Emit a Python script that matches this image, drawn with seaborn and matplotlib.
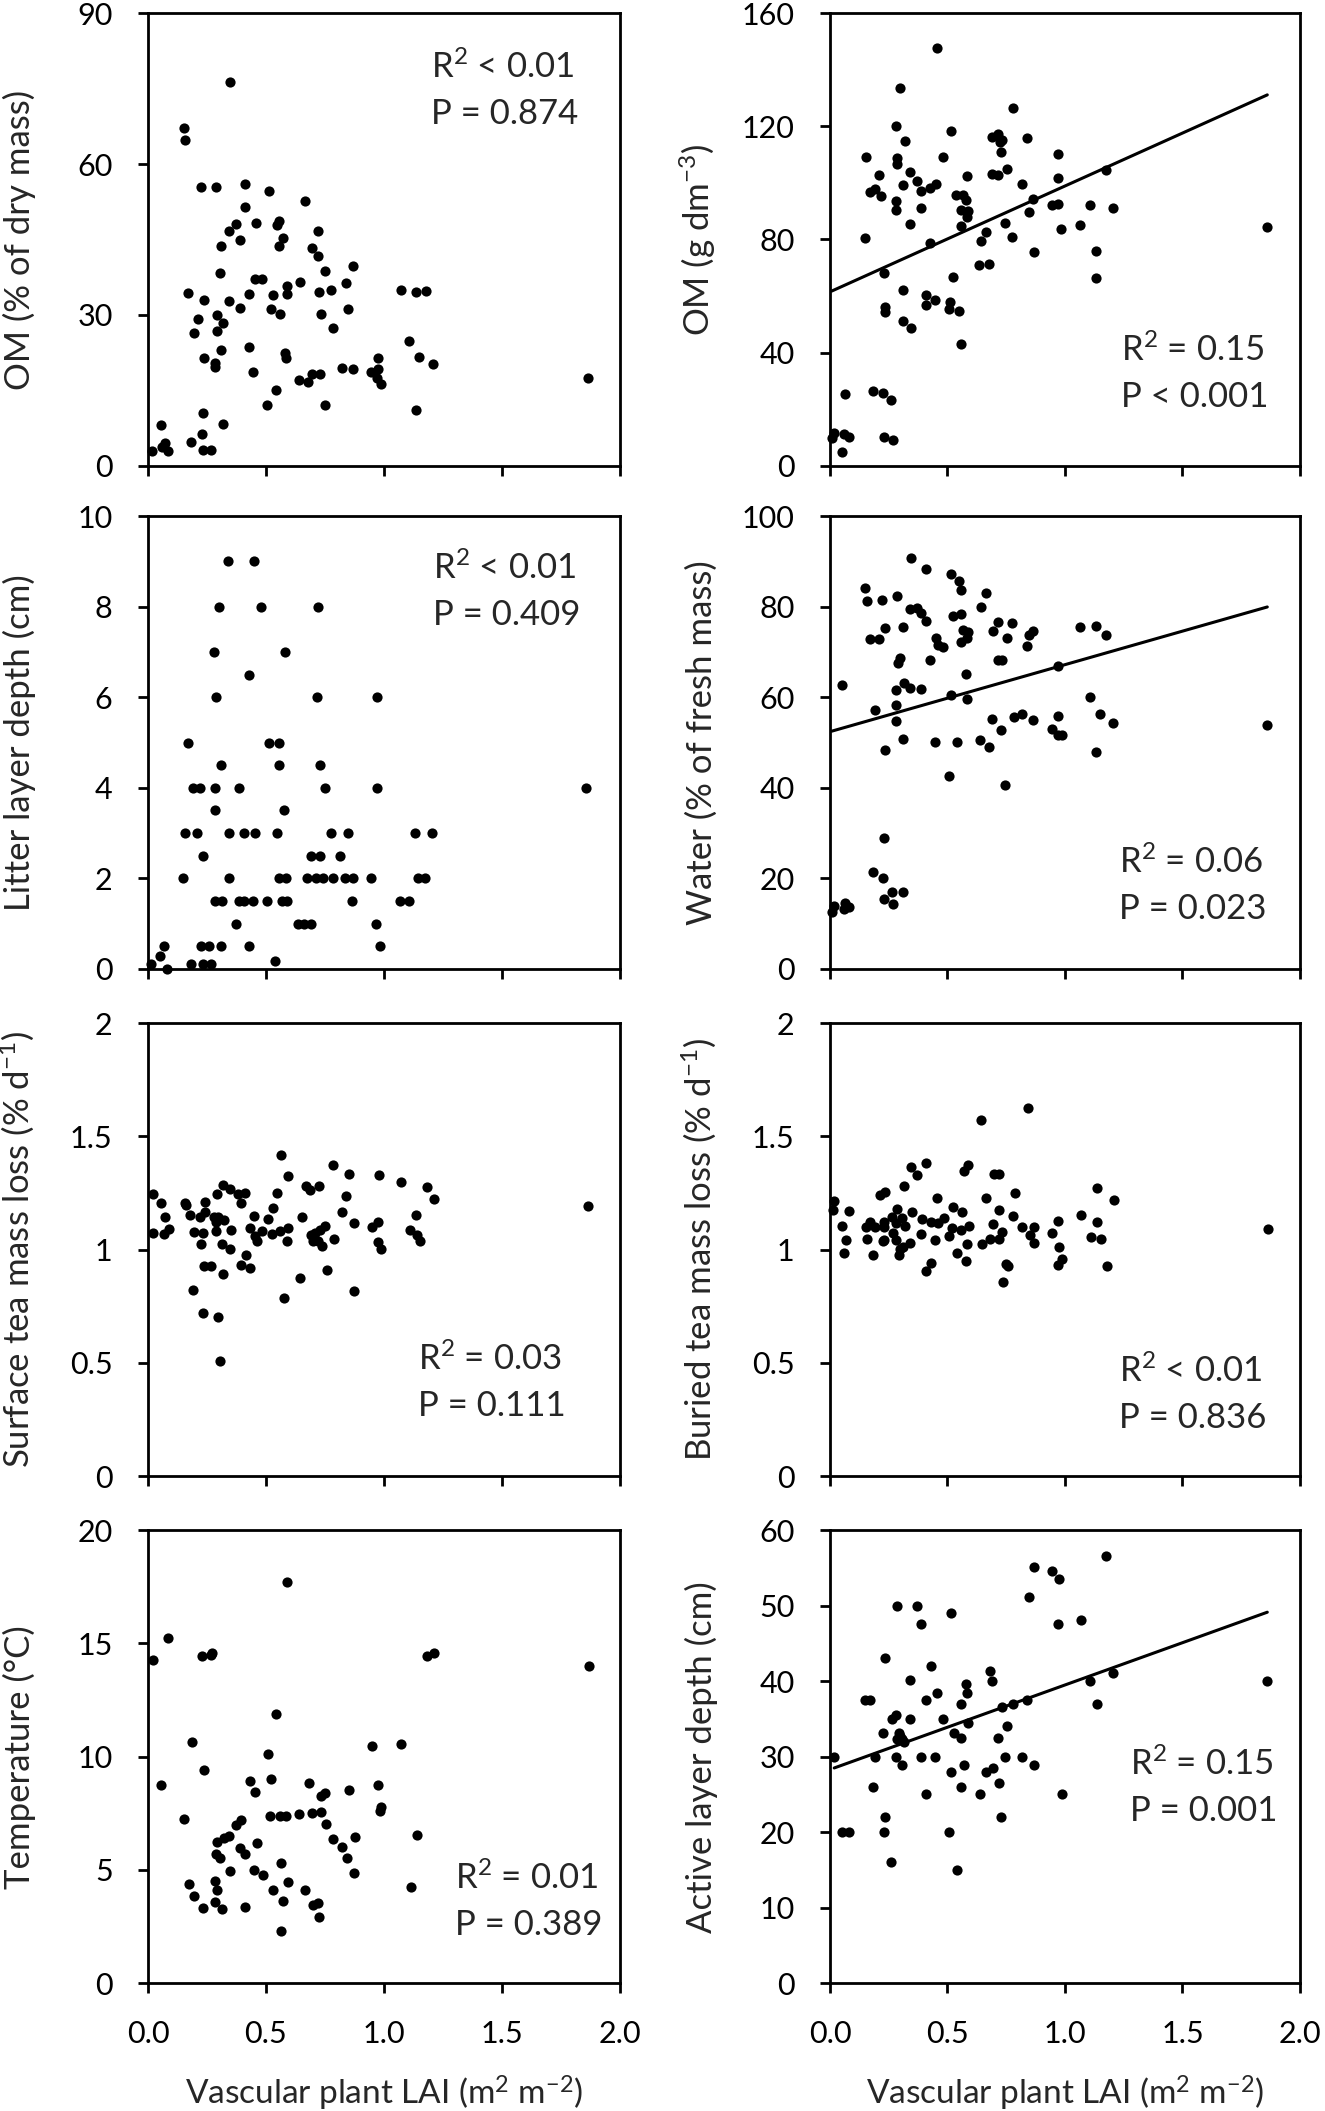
import numpy as np
import pandas as pd
import seaborn as sns
import matplotlib.pyplot as plt

####################################################################################################
#                                        DATA                                #
####################################################################################################

# OM (% of dry mass)
om_pct_x = [0.348, 0.152, 0.157, 0.225, 0.288, 0.411, 0.514, 0.411, 0.666, 0.373,
            0.457, 0.554, 0.548, 0.345, 0.720, 0.391, 0.570, 0.311, 0.555, 0.696,
            0.720, 0.868, 0.304, 0.752, 0.454, 0.482, 0.646, 0.839, 0.588, 0.591,
            0.171, 0.429, 0.529, 0.723, 0.777, 1.070, 1.136, 1.177, 0.238, 0.343,
            0.388, 0.520, 0.848, 0.293, 0.559, 0.734, 0.213, 0.318, 0.291, 0.193,
            0.784, 1.105, 0.429, 0.311, 0.580, 0.584, 0.236, 0.973, 1.148, 1.207,
            0.286, 0.284, 0.820, 0.870, 0.973, 0.946, 0.446, 0.693, 0.730, 0.970,
            1.863, 0.639, 0.679, 0.986, 0.543, 0.504, 0.748, 1.134, 0.234, 0.316,
            0.054, 0.229, 0.184, 0.070, 0.059, 0.084, 0.018, 0.234, 0.268]
om_pct_y = [76.3, 67.1, 64.7, 55.4, 55.4, 56.0, 54.7, 51.5, 52.6, 48.0,
            48.3, 48.7, 47.9, 46.7, 46.7, 44.9, 45.2, 43.8, 43.7, 43.3,
            41.8, 39.8, 38.3, 38.7, 37.1, 37.1, 36.6, 36.3, 35.8, 34.2,
            34.3, 34.1, 34.0, 34.5, 34.9, 35.0, 34.6, 34.7, 32.9, 32.7,
            31.3, 31.1, 31.1, 29.9, 30.1, 30.1, 29.2, 28.5, 26.8, 26.4,
            27.4, 24.8, 23.7, 23.1, 22.5, 21.5, 21.5, 21.4, 21.7, 20.2,
            20.5, 19.7, 19.4, 19.3, 19.3, 18.6, 18.6, 18.3, 18.2, 17.5,
            17.5, 17.1, 16.7, 16.3, 15.0, 12.1, 12.1, 11.2, 10.6, 8.3,
            8.1, 6.4, 4.7, 4.5, 3.7, 2.9, 2.9, 3.2, 3.2]

# OM (g dm-3)
om_dens_x = [0.455, 0.300, 0.780, 0.282, 0.516, 0.318, 0.691, 0.717, 0.722, 0.733,
             0.838, 0.726, 0.155, 0.287, 0.285, 0.480, 0.969, 0.209, 0.339, 0.583,
             0.688, 0.715, 0.753, 0.969, 1.175, 0.309, 0.372, 0.451, 0.426, 0.386,
             0.816, 0.170, 0.191, 0.218, 0.538, 0.567, 0.578, 0.863, 0.283, 0.280,
             0.386, 0.558, 0.587, 0.581, 0.845, 0.944, 0.971, 1.106, 1.206, 0.341,
             0.558, 0.744, 1.065, 0.982, 1.861, 0.150, 0.426, 0.664, 0.643, 0.773,
             0.868, 1.132, 0.635, 0.677, 0.231, 0.522, 1.132, 0.309, 0.408, 0.408,
             0.446, 0.233, 0.233, 0.511, 0.507, 0.547, 0.312, 0.345, 0.558, 0.065,
             0.181, 0.224, 0.258, 0.016, 0.007, 0.058, 0.081, 0.229, 0.267, 0.051]
om_dens_y = [147.5, 133.4, 126.6, 120.2, 118.5, 114.9, 116.2, 117.2, 114.3, 115.2,
             115.9, 111.0, 109.2, 108.9, 106.6, 109.3, 110.1, 102.9, 103.9, 102.4,
             103.2, 102.9, 104.9, 101.9, 104.4, 99.2, 100.6, 99.6, 98.1, 97.3,
             99.5, 96.8, 97.7, 95.2, 95.8, 95.8, 94.0, 94.3, 93.7, 90.5,
             91.1, 90.5, 90.0, 87.8, 89.6, 92.2, 92.5, 92.2, 91.1, 85.6,
             84.6, 86.0, 85.2, 83.7, 84.4, 80.7, 78.8, 82.5, 79.5, 80.9,
             75.5, 76.0, 70.9, 71.2, 68.3, 66.7, 66.3, 62.2, 60.3, 56.8,
             58.5, 56.2, 54.4, 57.9, 55.3, 54.7, 51.2, 48.8, 43.1, 25.5,
             26.5, 25.8, 23.4, 11.5, 9.9, 11.1, 10.1, 10.3, 9.1, 4.8]
om_dens_fit = [61.5, 37.4]   # intercept, slope

# Litter layer depth (cm)
litter_x = [0.340, 0.450, 0.300, 0.480, 0.720, 0.280, 0.580, 0.426, 0.288, 0.717,
            0.970, 0.170, 0.513, 0.555, 0.308, 0.555, 0.728, 0.190, 0.222, 0.284,
            0.385, 0.751, 0.971, 1.857, 0.284, 0.578, 0.156, 0.209, 0.342, 0.406,
            0.453, 0.546, 0.775, 0.846, 1.131, 1.202, 0.231, 0.692, 0.730, 0.814,
            0.148, 0.345, 0.555, 0.583, 0.674, 0.714, 0.742, 0.782, 0.835, 0.869,
            0.945, 1.145, 1.175, 0.284, 0.315, 0.385, 0.408, 0.447, 0.504, 0.567,
            0.590, 0.864, 1.066, 1.104, 0.372, 0.635, 0.662, 0.689, 0.966, 0.066,
            0.225, 0.259, 0.311, 0.428, 0.984, 0.052, 0.540, 0.013, 0.182, 0.231,
            0.267, 0.080]
litter_y = [9, 9, 8, 8, 8, 7, 7, 6.5, 6, 6,
            6, 5, 5, 5, 4.5, 4.5, 4.5, 4, 4, 4,
            4, 4, 4, 4, 3.5, 3.5, 3, 3, 3, 3,
            3, 3, 3, 3, 3, 3, 2.5, 2.5, 2.5, 2.5,
            2, 2, 2, 2, 2, 2, 2, 2, 2, 2,
            2, 2, 2, 1.5, 1.5, 1.5, 1.5, 1.5, 1.5, 1.5,
            1.5, 1.5, 1.5, 1.5, 1, 1, 1, 1, 1, 0.5,
            0.5, 0.5, 0.5, 0.5, 0.5, 0.28, 0.17, 0.1, 0.1, 0.1,
            0.1, 0.0]

# Water (% of fresh mass)
water_x = [0.345, 0.408, 0.513, 0.547, 0.556, 0.150, 0.157, 0.220, 0.285, 0.662,
           0.341, 0.370, 0.386, 0.643, 0.522, 0.556, 0.408, 0.717, 0.773, 0.235,
           0.309, 1.065, 1.132, 0.565, 0.587, 0.693, 0.866, 0.848, 1.175, 0.170,
           0.209, 0.451, 0.581, 0.753, 0.556, 0.458, 0.480, 0.838, 0.300, 0.291,
           0.426, 0.717, 0.733, 0.971, 0.578, 0.051, 0.316, 0.341, 0.386, 0.282,
           0.516, 1.106, 0.581, 0.283, 0.191, 1.148, 0.816, 0.782, 0.971, 0.690,
           0.866, 0.282, 1.206, 1.861, 0.944, 0.726, 0.969, 0.986, 0.309, 0.446,
           0.540, 0.637, 0.675, 0.233, 1.132, 0.505, 0.745, 0.231, 0.182, 0.224,
           0.262, 0.312, 0.229, 0.267, 0.065, 0.016, 0.058, 0.081, 0.007]
water_y = [90.8, 88.4, 87.3, 85.6, 83.6, 84.1, 81.3, 81.4, 82.4, 83.1,
           79.6, 79.7, 78.6, 79.9, 78.0, 78.3, 76.9, 76.6, 76.5, 75.4,
           75.6, 75.5, 75.7, 74.8, 74.4, 74.6, 74.6, 73.7, 73.8, 72.9,
           72.9, 73.1, 73.1, 73.0, 72.1, 71.5, 71.0, 71.4, 68.7, 67.6,
           68.3, 68.2, 68.2, 66.8, 65.1, 62.8, 63.2, 62.0, 61.9, 61.5,
           60.4, 60.1, 59.6, 58.3, 57.2, 56.4, 56.4, 55.6, 55.9, 55.2,
           54.9, 54.7, 54.4, 53.9, 53.1, 52.8, 51.7, 51.7, 50.8, 50.2,
           50.2, 50.6, 49.1, 48.3, 47.9, 42.7, 40.6, 29.0, 21.4, 20.1,
           16.9, 17.1, 15.5, 14.3, 14.6, 13.9, 13.3, 13.6, 12.5]
water_fit = [52.4, 14.8]

# Surface tea mass loss (% d-1)
surface_x = [0.563, 0.783, 0.852, 0.979, 0.594, 1.071, 0.319, 0.668, 0.724, 0.686,
             1.182, 0.349, 0.380, 0.412, 0.291, 0.547, 0.021, 0.841, 1.210, 0.157,
             0.160, 0.057, 0.242, 0.394, 1.863, 0.529, 0.240, 0.176, 0.219, 0.278,
             0.073, 0.451, 0.822, 0.651, 1.137, 0.298, 0.323, 0.510, 0.289, 0.872,
             0.973, 0.750, 0.948, 0.091, 0.433, 0.594, 0.351, 0.485, 0.561, 0.729,
             0.196, 0.235, 0.289, 1.109, 0.021, 0.068, 0.524, 0.692, 0.708, 1.141,
             0.455, 0.462, 0.790, 0.588, 0.699, 0.975, 1.152, 0.720, 0.226, 0.314,
             0.736, 0.348, 0.989, 0.417, 0.237, 0.267, 0.392, 0.431, 0.758, 0.316,
             0.643, 0.189, 0.875, 0.576, 0.232, 0.296, 0.307]
surface_y = [1.417, 1.375, 1.333, 1.329, 1.324, 1.297, 1.285, 1.283, 1.282, 1.264,
             1.276, 1.266, 1.246, 1.252, 1.246, 1.249, 1.246, 1.235, 1.224, 1.204,
             1.196, 1.205, 1.210, 1.205, 1.194, 1.182, 1.167, 1.151, 1.143, 1.146,
             1.142, 1.148, 1.166, 1.143, 1.155, 1.142, 1.129, 1.136, 1.123, 1.117,
             1.120, 1.105, 1.102, 1.091, 1.096, 1.096, 1.086, 1.082, 1.083, 1.088,
             1.077, 1.074, 1.082, 1.085, 1.073, 1.068, 1.067, 1.066, 1.074, 1.066,
             1.060, 1.040, 1.048, 1.039, 1.036, 1.035, 1.040, 1.040, 1.024, 1.024,
             1.015, 1.004, 1.001, 0.977, 0.929, 0.926, 0.933, 0.918, 0.911, 0.892,
             0.876, 0.820, 0.818, 0.787, 0.718, 0.701, 0.509]

# Buried tea mass loss (% d-1)
buried_x = [0.841, 0.641, 0.410, 0.345, 0.588, 0.372, 0.570, 0.697, 0.718, 0.316,
            1.135, 0.236, 0.211, 0.787, 0.666, 0.457, 1.209, 0.016, 0.011, 0.525,
            0.083, 0.285, 0.720, 0.347, 0.560, 1.069, 0.778, 0.264, 0.307, 0.390,
            0.484, 1.137, 0.971, 0.428, 0.460, 0.283, 0.171, 0.229, 0.695, 0.052,
            0.152, 0.191, 0.231, 0.318, 0.518, 0.592, 0.818, 0.868, 1.865, 0.558,
            0.269, 0.731, 0.386, 0.946, 0.507, 0.850, 1.110, 0.720, 1.152, 0.159,
            0.069, 0.231, 0.226, 0.282, 0.448, 0.679, 0.341, 0.585, 0.648, 0.870,
            0.310, 0.296, 0.975, 0.058, 0.542, 0.184, 0.292, 0.989, 0.579, 0.428,
            0.749, 0.969, 0.756, 1.179, 0.410, 0.735]
buried_y = [1.625, 1.573, 1.383, 1.364, 1.375, 1.330, 1.345, 1.335, 1.335, 1.283,
            1.274, 1.254, 1.239, 1.251, 1.226, 1.226, 1.219, 1.213, 1.177, 1.189,
            1.171, 1.180, 1.177, 1.166, 1.166, 1.155, 1.148, 1.146, 1.141, 1.136,
            1.138, 1.124, 1.127, 1.121, 1.117, 1.117, 1.120, 1.123, 1.111, 1.104,
            1.102, 1.101, 1.099, 1.104, 1.095, 1.104, 1.102, 1.102, 1.091, 1.085,
            1.074, 1.076, 1.070, 1.073, 1.061, 1.063, 1.054, 1.048, 1.048, 1.046,
            1.043, 1.043, 1.039, 1.042, 1.043, 1.045, 1.030, 1.023, 1.026, 1.027,
            1.011, 1.004, 1.010, 0.987, 0.987, 0.977, 0.974, 0.957, 0.949, 0.942,
            0.937, 0.933, 0.927, 0.929, 0.905, 0.855]

# Temperature (°C)
temp_x = [0.587, 0.084, 0.022, 0.230, 0.268, 0.273, 1.181, 1.212, 1.869, 0.544,
          0.185, 1.074, 0.948, 0.508, 0.237, 0.522, 0.433, 0.684, 0.054, 0.973,
          0.853, 0.454, 0.749, 0.734, 0.989, 0.982, 0.731, 0.693, 0.641, 0.515,
          0.558, 0.583, 0.153, 0.393, 0.375, 0.756, 1.138, 0.345, 0.320, 0.876,
          0.783, 0.291, 0.460, 0.388, 0.820, 0.413, 0.287, 0.307, 0.842, 0.562,
          0.347, 0.449, 0.487, 0.873, 0.284, 0.592, 0.174, 1.113, 0.291, 0.530,
          0.666, 0.194, 0.573, 0.284, 0.722, 0.698, 0.413, 0.235, 0.312, 0.725,
          0.562]
temp_y = [17.7, 15.25, 14.26, 14.44, 14.5, 14.56, 14.46, 14.56, 14.01, 11.87,
          10.66, 10.54, 10.46, 10.1, 9.41, 9.0, 8.91, 8.85, 8.75, 8.75,
          8.54, 8.46, 8.41, 8.28, 7.78, 7.59, 7.57, 7.51, 7.47, 7.40,
          7.40, 7.37, 7.26, 7.22, 6.97, 7.04, 6.56, 6.51, 6.40, 6.44,
          6.35, 6.22, 6.18, 5.96, 6.00, 5.72, 5.68, 5.54, 5.51, 5.32,
          4.97, 4.99, 4.76, 4.87, 4.53, 4.47, 4.37, 4.26, 4.12, 4.10,
          4.12, 3.85, 3.62, 3.56, 3.54, 3.46, 3.35, 3.31, 3.28, 2.91,
          2.31]

# Active layer depth (cm)
active_x = [1.175, 0.870, 0.946, 0.973, 0.847, 0.285, 0.371, 0.517, 0.387, 0.969,
            1.067, 0.236, 0.429, 0.679, 1.205, 0.341, 0.690, 1.106, 1.861, 0.580,
            0.584, 0.454, 0.151, 0.171, 0.409, 0.838, 0.559, 0.777, 1.135, 0.732,
            0.283, 0.265, 0.342, 0.481, 0.587, 0.753, 0.225, 0.526, 0.292, 0.299,
            0.308, 0.285, 0.317, 0.559, 0.717, 0.018, 0.193, 0.279, 0.389, 0.447,
            0.746, 0.816, 0.305, 0.569, 0.867, 0.695, 0.665, 0.514, 0.721, 0.184,
            0.559, 0.409, 0.638, 0.986, 0.234, 0.728, 0.052, 0.081, 0.231, 0.505,
            0.261, 0.541]
active_y = [56.6, 55.1, 54.6, 53.5, 51.1, 50.0, 50.0, 49.1, 47.6, 47.6,
            48.1, 43.1, 42.0, 41.3, 41.1, 40.2, 40.0, 40.0, 40.0, 39.6,
            38.5, 38.5, 37.5, 37.5, 37.5, 37.5, 37.0, 37.0, 37.0, 36.6,
            35.5, 35.0, 35.0, 35.0, 34.5, 34.0, 33.1, 33.1, 33.1, 32.7,
            32.4, 32.3, 31.9, 32.5, 32.5, 30.0, 30.0, 30.0, 30.0, 30.0,
            30.0, 30.0, 28.9, 28.9, 28.9, 28.5, 28.0, 28.0, 26.5, 26.0,
            26.0, 25.0, 25.0, 25.0, 22.0, 22.0, 20.0, 20.0, 20.0, 20.0,
            16.0, 15.0]
active_fit = [28.3, 11.2]

x_ticks = [0, 0.5, 1.0, 1.5, 2.0]
x_tick_labels = ['0.0', '0.5', '1.0', '1.5', '2.0']

####################################################################################################
#                                            PLOTTING                                              #
####################################################################################################

sns.set_theme(style='white')
plt.rcParams['font.family'] = ['Lato', 'DejaVu Sans']
plt.rcParams['mathtext.fontset'] = 'custom'
plt.rcParams['mathtext.rm'] = 'Lato'
plt.rcParams['mathtext.it'] = 'Lato:italic'
plt.rcParams['mathtext.bf'] = 'Lato:bold'

# x, y, fit, ylabel, yticks, ytick labels, stats text, stats position (axes fraction)
panels = [
    (om_pct_x, om_pct_y, None, 'OM (% of dry mass)', [0, 30, 60, 90], ['0', '30', '60', '90'],
     ['R$^{2}$ < 0.01', 'P = 0.874'], (0.600, 0.881)),
    (om_dens_x, om_dens_y, om_dens_fit, 'OM (g dm$^{-3}$)', [0, 40, 80, 120, 160],
     ['0', '40', '80', '120', '160'], ['R$^{2}$ = 0.15', 'P < 0.001'], (0.620, 0.256)),
    (litter_x, litter_y, None, 'Litter layer depth (cm)', [0, 2, 4, 6, 8, 10],
     ['0', '2', '4', '6', '8', '10'], ['R$^{2}$ < 0.01', 'P = 0.409'], (0.604, 0.886)),
    (water_x, water_y, water_fit, 'Water (% of fresh mass)', [0, 20, 40, 60, 80, 100],
     ['0', '20', '40', '60', '80', '100'], ['R$^{2}$ = 0.06', 'P = 0.023'], (0.616, 0.237)),
    (surface_x, surface_y, None, 'Surface tea mass loss (% d$^{-1}$)', [0, 0.5, 1, 1.5, 2],
     ['0', '0.5', '1', '1.5', '2'], ['R$^{2}$ = 0.03', 'P = 0.111'], (0.572, 0.259)),
    (buried_x, buried_y, None, 'Buried tea mass loss (% d$^{-1}$)', [0, 0.5, 1, 1.5, 2],
     ['0', '0.5', '1', '1.5', '2'], ['R$^{2}$ < 0.01', 'P = 0.836'], (0.616, 0.233)),
    (temp_x, temp_y, None, 'Temperature (°C)', [0, 5, 10, 15, 20],
     ['0', '5', '10', '15', '20'], ['R$^{2}$ = 0.01', 'P = 0.389'], (0.650, 0.232)),
    (active_x, active_y, active_fit, 'Active layer depth (cm)', [0, 10, 20, 30, 40, 50, 60],
     ['0', '10', '20', '30', '40', '50', '60'], ['R$^{2}$ = 0.15', 'P = 0.001'], (0.638, 0.484)),
]

fig = plt.figure(figsize=(13.25, 21.11), dpi=100)
col_left = [0.1117, 0.6264]
col_width = [0.3562, 0.3547]
row_bottom = [0.7793, 0.5410, 0.3008, 0.0606]
row_height = 0.2145
line_gap = 0.104

for i, (px, py, fit, ylab, yt, ytl, stats, pos) in enumerate(panels):
    assert len(px) == len(py)
    r, c = divmod(i, 2)
    ax = fig.add_axes([col_left[c], row_bottom[r], col_width[c], row_height])
    df = pd.DataFrame({'x': px, 'y': py})
    sns.scatterplot(data=df, x='x', y='y', ax=ax, color='black', s=54, linewidth=0, clip_on=False, zorder=3)
    if fit is not None:
        lx = np.array([min(px), max(px)])
        sns.lineplot(x=lx, y=fit[0] + fit[1] * lx, ax=ax, color='black', linewidth=2.2, zorder=2)

    ax.set_xlim(0, 2)
    ax.set_ylim(yt[0], yt[-1])
    ax.set_xticks(x_ticks)
    ax.set_yticks(yt)
    ax.set_yticklabels(ytl)
    if r == 3:
        ax.set_xticklabels(x_tick_labels)
        ax.set_xlabel('Vascular plant LAI (m$^{2}$ m$^{-2}$)', fontsize=24)
        ax.xaxis.set_label_coords(0.5, -0.2)
    else:
        ax.set_xticklabels([])
        ax.set_xlabel('')
    ax.set_ylabel(ylab, fontsize=25)
    ax.yaxis.set_label_coords(-0.238, 0.5)

    for sp in ax.spines.values():
        sp.set_visible(True)
        sp.set_color('black')
        sp.set_linewidth(2.0)
    ax.tick_params(axis='both', direction='out', length=7.5, width=2.0, colors='black',
                   labelsize=22, left=True, bottom=True)
    ax.tick_params(axis='y', pad=18)
    ax.tick_params(axis='x', pad=19)

    ax.text(pos[0], pos[1], stats[0], transform=ax.transAxes, ha='left', va='center', fontsize=25)
    ax.text(pos[0], pos[1] - line_gap, stats[1], transform=ax.transAxes, ha='left', va='center', fontsize=25)

fig.savefig('out.png', dpi=100, facecolor='white')
